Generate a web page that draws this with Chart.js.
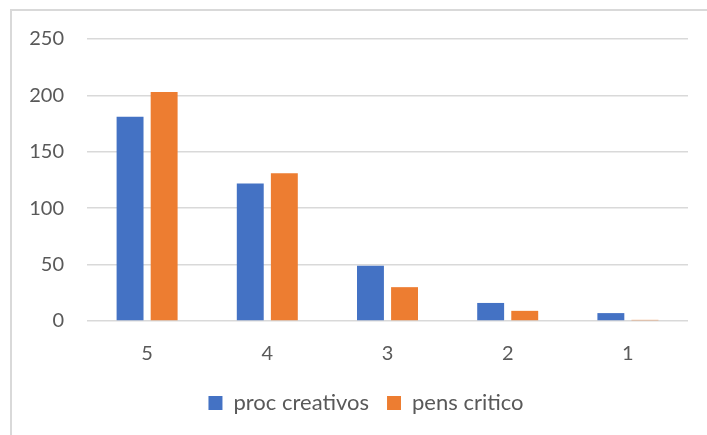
<!DOCTYPE html>
<html>
<head>
<meta charset="utf-8">
<script src="https://cdn.jsdelivr.net/npm/chart.js@4"></script>
<style>
  html, body { margin: 0; padding: 0; background: #fff; }
  #wrap { position: relative; width: 707px; height: 435px; }
  #frame {
    position: absolute; left: 10px; top: 9px; right: 0; bottom: 0;
    border-top: 2px solid #d9d9d9; border-left: 2px solid #d9d9d9;
  }
  canvas { position: absolute; left: 0; top: 0; }
</style>
</head>
<body>
<div id="wrap">
  <div id="frame"></div>
  <canvas id="chart" width="707" height="435"></canvas>
</div>
<script>
// categories and series
const categories = ['5', '4', '3', '2', '1'];
const procCreativos = [181, 122, 49, 16, 7];
const pensCritico = [203, 131, 30, 9, 1];
const yTicks = [0, 50, 100, 150, 200, 250];

const textColor = '#595959';
const gridColor = '#d9d9d9';
const tickFont = { family: 'Lato, "Open Sans", sans-serif', size: 20 };
const legendFont = { family: 'Lato, "Open Sans", sans-serif', size: 22 };

// legend in the original is centred under the plot area, not the whole canvas
const legendShift = {
    id: 'legendShift',
    afterLayout(chart) {
        chart.legend.left += 22;
        chart.legend.right += 22;
    }
};

new Chart(document.getElementById('chart'), {
    type: 'bar',
    data: {
        labels: categories,
        datasets: [{
            label: 'proc creativos',
            data: procCreativos,
            backgroundColor: '#4472c4',
            categoryPercentage: 0.567,
            barPercentage: 0.79
        }, {
            label: 'pens critico',
            data: pensCritico,
            backgroundColor: '#ed7d31',
            categoryPercentage: 0.567,
            barPercentage: 0.79
        }]
    },
    options: {
        responsive: false,
        animation: false,
        layout: { padding: { top: 39, right: 19, left: 0, bottom: 11 } },
        scales: {
            y: {
                min: 0,
                max: 250,
                afterFit: s => { s.width = 87; },
                afterBuildTicks: s => { s.ticks = yTicks.map(v => ({ value: v })); },
                ticks: { color: textColor, font: tickFont, padding: 23 },
                grid: { color: gridColor, lineWidth: 1.5, drawTicks: false },
                border: { display: false }
            },
            x: {
                afterFit: s => { s.height -= 13; },
                ticks: { color: textColor, font: tickFont, padding: 21 },
                grid: { display: false, drawTicks: false },
                border: { display: false }
            }
        },
        plugins: {
            legend: {
                position: 'bottom',
                labels: {
                    color: textColor,
                    font: legendFont,
                    boxWidth: 14,
                    boxHeight: 14,
                    padding: 18
                }
            },
            tooltip: { enabled: false }
        }
    },
    plugins: [legendShift]
});
</script>
</body>
</html>
